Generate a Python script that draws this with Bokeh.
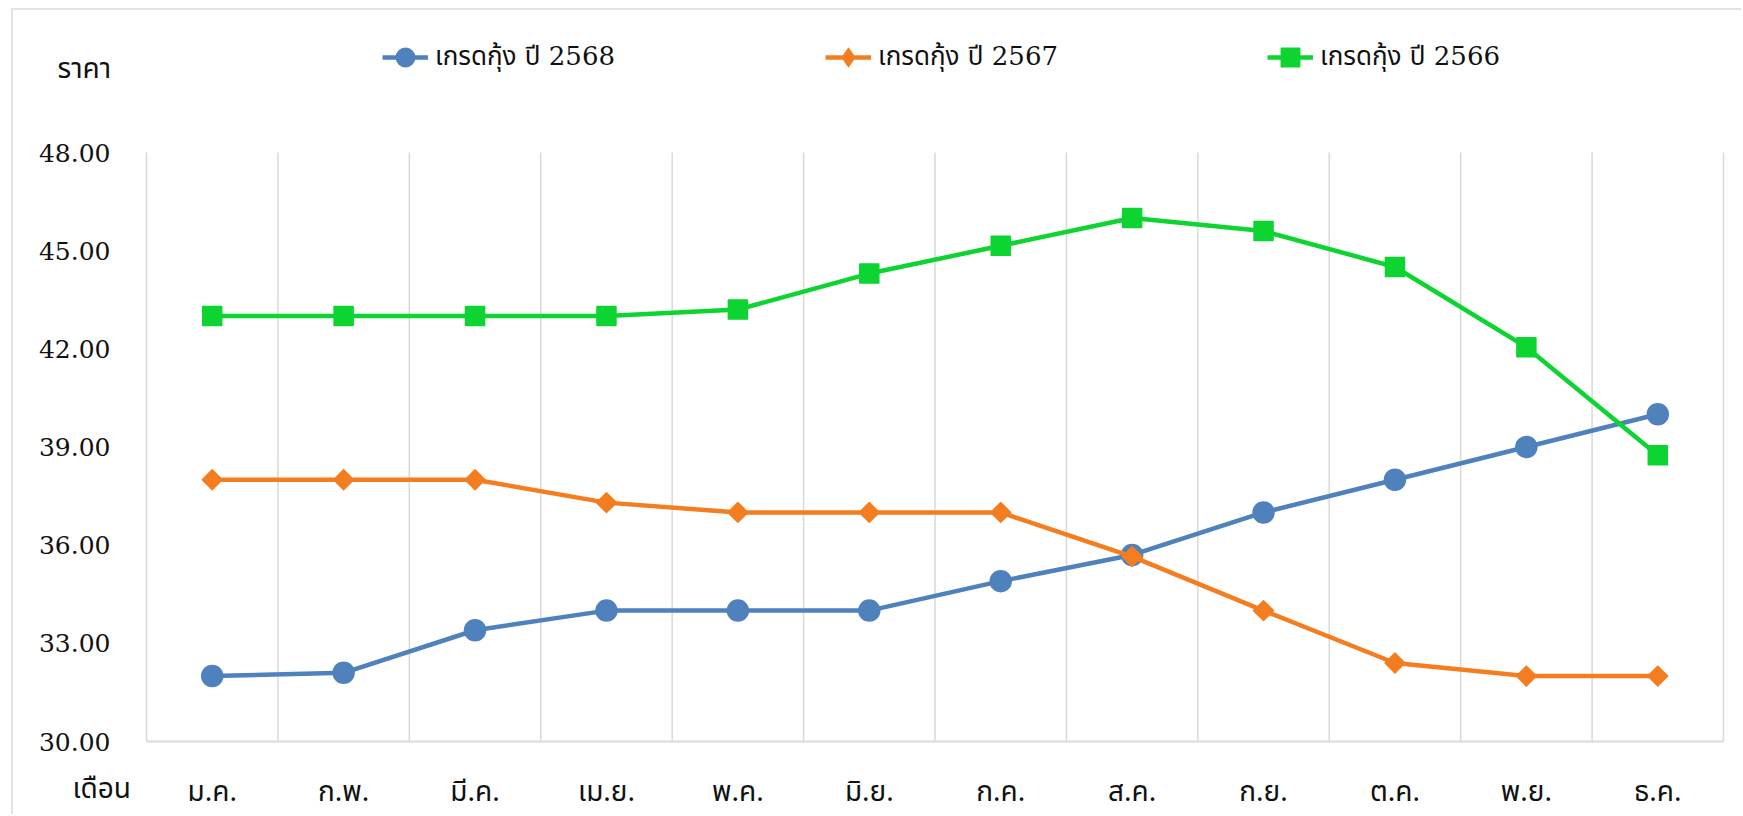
import math
from bokeh.plotting import figure
from bokeh.models import (Range1d, FixedTicker, NumeralTickFormatter, Legend, LegendItem, Label)
from bokeh.embed import file_html
from bokeh.resources import INLINE

months = ["ม.ค.", "ก.พ.", "มี.ค.", "เม.ย.", "พ.ค.", "มิ.ย.", "ก.ค.", "ส.ค.", "ก.ย.", "ต.ค.", "พ.ย.", "ธ.ค."]
series_names = ["เกรดกุ้ง ปี 2568", "เกรดกุ้ง ปี 2567", "เกรดกุ้ง ปี 2566"]
price_2568 = [32.0, 32.1, 33.4, 34.0, 34.0, 34.0, 34.9, 35.7, 37.0, 38.0, 39.0, 40.0]
price_2567 = [38.0, 38.0, 38.0, 37.3, 37.0, 37.0, 37.0, 35.65, 34.0, 32.4, 32.0, 32.0]
price_2566 = [43.0, 43.0, 43.0, 43.0, 43.2, 44.3, 45.15, 46.0, 45.6, 44.5, 42.05, 38.75]
y_ticks = [30, 33, 36, 39, 42, 45, 48]
y_title = "ราคา"
x_title = "เดือน"

THAI = "'Noto Sans Thai', 'Noto Sans'"
LEG = "'DejaVu Serif', 'Noto Sans Thai'"
SERIF = "DejaVu Serif"
GRID = "#d9d9d9"
TXT = "#111111"

n = len(months)
xs = [i + 0.5 for i in range(n)]
ymin, ymax = min(y_ticks), max(y_ticks)

# layout (pixels inside the figure canvas)
W, H = 1730, 806
PL, PR, PT, PB = 133, 1710, 142, 731          # plot-area edges
xpx = (PR - PL) / n
ypx = (PB - PT) / (ymax - ymin)
x_range = Range1d(-PL / xpx, n + (W - PR) / xpx)
y_range = Range1d(ymin - (H - PB) / ypx, ymax + PT / ypx)

def dx(px):
    return (px - PL) / xpx

def dy(py):
    return ymin + (PB - py) / ypx

p = figure(width=W, height=H, output_backend="svg", toolbar_location=None,
           x_range=x_range, y_range=y_range,
           min_border_left=0, min_border_right=0, min_border_top=0, min_border_bottom=0)
p.styles = {"margin-left": "11px", "margin-top": "8px",
            "border-left": "2px solid #e2e2e2", "border-top": "2px solid #e2e2e2"}
p.outline_line_color = None
p.background_fill_color = "white"
p.border_fill_color = "white"
p.xgrid.visible = False
p.ygrid.visible = False

# axes fixed at the plot-area edges
p.yaxis.fixed_location = 0
p.yaxis.bounds = (ymin, ymax)
p.yaxis.ticker = FixedTicker(ticks=y_ticks)
p.yaxis.formatter = NumeralTickFormatter(format="0.00")
p.yaxis.axis_line_color = None
p.yaxis.major_tick_line_color = None
p.yaxis.minor_tick_line_color = None
p.yaxis.major_label_standoff = 30
p.yaxis.major_label_text_font = SERIF
p.yaxis.major_label_text_font_size = "25px"
p.yaxis.major_label_text_color = TXT

p.xaxis.fixed_location = ymin
p.xaxis.bounds = (0, n)
p.xaxis.ticker = FixedTicker(ticks=xs)
p.xaxis.major_label_overrides = {x: m for x, m in zip(xs, months)}
p.xaxis.axis_line_color = GRID
p.xaxis.axis_line_width = 2
p.xaxis.major_tick_line_color = None
p.xaxis.minor_tick_line_color = None
p.xaxis.major_label_standoff = 23
p.xaxis.major_label_text_font = THAI
p.xaxis.major_label_text_font_size = "28px"
p.xaxis.major_label_text_color = TXT

# vertical separators between months
bounds = list(range(n + 1))
p.segment(x0=bounds, y0=[ymin] * len(bounds), x1=bounds, y1=[ymax] * len(bounds),
          line_color=GRID, line_width=1.5)

styles = [
    (price_2568, "#4F81BD", "circle", 21, 0, "circle"),
    (price_2567, "#F47D20", "square", 14, math.pi / 4, "diamond"),
    (price_2566, "#0DD431", "square", 19, 0, "square"),
]
legend_px = [369, 812, 1254]
for (vals, col, mk, sz, ang, legmk), name, lx in zip(styles, series_names, legend_px):
    l = p.line(xs, vals, line_color=col, line_width=4.5)
    s = p.scatter(xs, vals, marker=mk, size=sz, angle=ang, fill_color=col, line_color=col,
                  line_width=1.5, line_join="round")
    if legmk != mk:
        s = p.scatter(xs, vals, marker=legmk, size=sz, fill_color=col, line_color=col,
                      line_width=1.5, line_join="round", visible=False)
    lg = Legend(items=[LegendItem(label=name, renderers=[l, s])],
                location=(lx, H - 71), orientation="horizontal",
                glyph_width=46, glyph_height=48, label_standoff=7,
                padding=0, margin=0, border_line_alpha=0, background_fill_alpha=0,
                inactive_fill_alpha=0,
                label_text_font=LEG, label_text_font_size="26px", label_text_color=TXT)
    p.add_layout(lg, "center")

p.add_layout(Label(x=dx(44), y=dy(59), text=y_title,
                   text_font=THAI, text_font_size="28px", text_baseline="middle",
                   text_align="left", text_color=TXT))
p.add_layout(Label(x=dx(59), y=dy(779), text=x_title,
                   text_font=THAI, text_font_size="28px", text_baseline="middle",
                   text_align="left", text_color=TXT))

open("out.html", "w").write(file_html(p, INLINE))
